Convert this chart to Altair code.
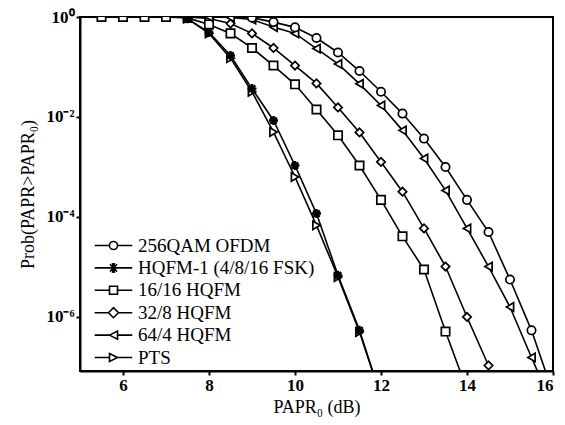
import altair as alt
import pandas as pd

# ---------------- data ----------------
series_names = ["256QAM OFDM", "HQFM-1 (4/8/16 FSK)", "16/16 HQFM",
                "32/8 HQFM", "64/4 HQFM", "PTS"]

ofdm_x = [9, 9.5, 10, 10.5, 11, 11.5, 12, 12.5, 13, 13.5, 14, 14.5, 15, 15.5, 16]
ofdm_y = [0.97, 0.79, 0.62, 0.38, 0.195, 0.083, 0.032, 0.0117, 0.0037,
          1.0e-3, 2.2e-4, 5.0e-5, 5.6e-6, 5.4e-7, 3.0e-8]

hqfm1_x = [7.5, 8, 8.5, 9, 9.5, 10, 10.5, 11, 11.5, 12]
hqfm1_y = [0.92, 0.49, 0.17, 0.037, 0.0085, 1.07e-3, 1.17e-4, 6.8e-6, 5.4e-7, 2.5e-8]

h1616_x = [5.5, 6, 6.5, 7, 7.5, 8, 8.5, 9, 9.5, 10, 10.5, 11, 11.5, 12, 12.5, 13, 13.5, 14]
h1616_y = [1.0, 1.0, 1.0, 1.0, 0.96, 0.71, 0.47, 0.24, 0.107, 0.045, 0.0141,
           4.3e-3, 1.07e-3, 2.2e-4, 4.1e-5, 8.9e-6, 5.1e-7, 3.5e-8]

h328_x = [7.5, 8, 8.5, 9, 9.5, 10, 10.5, 11, 11.5, 12, 12.5, 13, 13.5, 14, 14.5]
h328_y = [1.0, 0.93, 0.74, 0.47, 0.24, 0.107, 0.047, 0.0155, 4.9e-3, 1.26e-3,
          3.2e-4, 5.9e-5, 1.02e-5, 1.0e-6, 1.07e-7]

h644_x = [7.5, 8, 8.5, 9, 9.5, 10, 10.5, 11, 11.5, 12, 12.5, 13, 13.5, 14, 14.5, 15, 15.5, 16]
h644_y = [1.0, 1.0, 0.98, 0.89, 0.63, 0.47, 0.234, 0.115, 0.046, 0.017, 5.4e-3,
          1.48e-3, 3.4e-4, 5.9e-5, 1.02e-5, 1.58e-6, 1.55e-7, 1.6e-8]

pts_x = [7.5, 8, 8.5, 9, 9.5, 10, 10.5, 11, 11.5, 12]
pts_y = [0.93, 0.47, 0.15, 0.032, 0.005, 6.3e-4, 6.8e-5, 6.3e-6, 5.0e-7, 2.5e-8]

xtick_vals = [6, 8, 10, 12, 14, 16]
ytick_vals = [1, 1e-2, 1e-4, 1e-6]
ytick_labels = ["10\u2070", "10\u207b\u00b2", "10\u207b\u2074", "10\u207b\u2076"]

# ---------------- build table ----------------
table = {
    "256QAM OFDM": (ofdm_x, ofdm_y),
    "HQFM-1 (4/8/16 FSK)": (hqfm1_x, hqfm1_y),
    "16/16 HQFM": (h1616_x, h1616_y),
    "32/8 HQFM": (h328_x, h328_y),
    "64/4 HQFM": (h644_x, h644_y),
    "PTS": (pts_x, pts_y),
}
draw_order = ["HQFM-1 (4/8/16 FSK)", "PTS", "32/8 HQFM", "16/16 HQFM",
              "64/4 HQFM", "256QAM OFDM"]
rows = []
for name in draw_order:
    xs, ys = table[name]
    for x, y in zip(xs, ys):
        rows.append({"series": name, "x": x, "p": y})
df = pd.DataFrame(rows)

ASTER = "M-1,0L1,0M0,-1L0,1M-0.72,-0.72L0.72,0.72M-0.72,0.72L0.72,-0.72"
point_shapes = ["circle", ASTER, "square", "diamond", "triangle-left", "triangle-right"]

L = "M-4.7,0L-1,0M1,0L4.7,0"
legend_shapes = [
    L + "M-1,0A1,1 0 1,0 1,0A1,1 0 1,0 -1,0",
    "M-4.7,0L4.7,0M0,-1.25L0,1.25M-0.9,-0.9L0.9,0.9M-0.9,0.9L0.9,-0.9M-0.3,-1.2L0.3,1.2M0.3,-1.2L-0.3,1.2",
    L + "M-1,-1L1,-1L1,1L-1,1Z",
    "M-4.7,0L-1.25,0M1.25,0L4.7,0M-1.25,0L0,-1.25L1.25,0L0,1.25Z",
    L + "M-1,0L1,-1L1,1Z",
    L + "M1,0L-1,-1L-1,1Z",
]

FONT = "Liberation Serif"
ymin = 8.3e-8

label_expr = " : ".join(
    f"datum.value > {v * 0.5} ? '{lab}'" for v, lab in zip(ytick_vals[:-1], ytick_labels[:-1])
) + f" : '{ytick_labels[-1]}'"

x_enc = alt.X("x:Q", scale=alt.Scale(domain=[5, 16], nice=False, zero=False),
              axis=alt.Axis(values=xtick_vals, format="d", title="PAPR\u2080 (dB)",
                            tickSize=4, labelPadding=2, titlePadding=5))
y_enc = alt.Y("p:Q", scale=alt.Scale(type="log", domain=[ymin, 1], nice=False),
              axis=alt.Axis(values=ytick_vals, labelExpr=label_expr,
                            title="Prob(PAPR>PAPR\u2080)", tickSize=4, labelPadding=2,
                            titlePadding=8))

base = alt.Chart(df)

lines = base.mark_line(color="black", strokeWidth=1.6, clip=True).encode(
    x=x_enc, y=y_enc, detail="series:N"
)

points = base.transform_filter(
    alt.datum.series != "HQFM-1 (4/8/16 FSK)"
).mark_point(filled=True, fill="white", stroke="black", strokeWidth=1.7,
             size=70, opacity=1, clip=True).encode(
    x=x_enc, y=y_enc,
    shape=alt.Shape("series:N", scale=alt.Scale(domain=series_names, range=point_shapes),
                    legend=None),
)

stars = base.transform_filter(
    alt.datum.series == "HQFM-1 (4/8/16 FSK)"
).mark_point(shape=ASTER, filled=False, stroke="black", strokeWidth=2.4,
             size=80, opacity=1, clip=True).encode(x=x_enc, y=y_enc)

legend_layer = base.transform_filter("false").mark_point(
    filled=False, stroke="black", strokeWidth=1.6, opacity=1
).encode(
    x=x_enc, y=y_enc,
    shape=alt.Shape("series:N",
                    scale=alt.Scale(domain=series_names, range=legend_shapes),
                    legend=alt.Legend(title=None, orient="none", legendX=24, legendY=219,
                                      symbolSize=64, symbolStrokeWidth=1.6,
                                      symbolStrokeColor="black",
                                      labelFont=FONT, labelFontSize=19, labelColor="black",
                                      labelOffset=15, rowPadding=2.4, labelLimit=400,
                                      padding=0)),
)

chart = alt.layer(lines, points, stars, legend_layer).resolve_scale(
    shape="independent"
).properties(
    width=473, height=354,
    autosize=alt.AutoSizeParams(type="none"),
    padding={"left": 80, "top": 17, "right": 12, "bottom": 54},
    background="white",
).configure_view(
    stroke="black", strokeWidth=2
).configure_axis(
    labelFont=FONT, labelFontSize=17, labelFontWeight="bold", labelColor="black",
    titleFont=FONT, titleFontSize=18, titleFontWeight="normal", titleColor="black",
    domainColor="black", domainWidth=2, tickColor="black", tickWidth=2, grid=False,
)

chart.save("out.html", embed_options={"renderer": "svg", "actions": False})
